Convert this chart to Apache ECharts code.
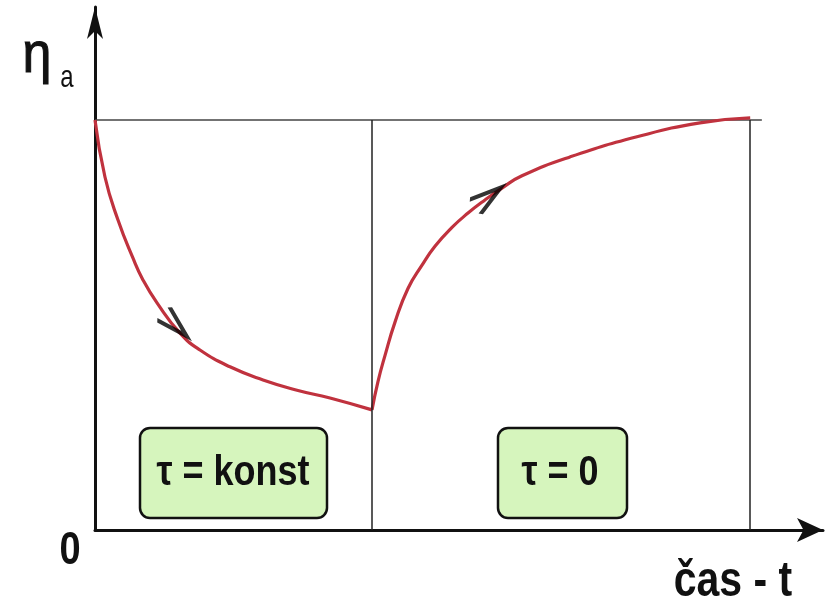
<!DOCTYPE html>
<html>
<head>
<meta charset="utf-8">
<script src="https://cdn.jsdelivr.net/npm/echarts@6/dist/echarts.min.js"></script>
<style>
html,body{margin:0;padding:0;background:#fff;}
#main{width:825px;height:606px;}
</style>
</head>
<body>
<div id="main"></div>
<script>
// Time (relative units) and viscosity eta_a (1.0 = initial value)
const fallX = [0, 0.137, 0.316, 0.522, 0.659, 0.852, 1.168, 1.442, 1.854, 2.308, 2.775, 3.228, 3.805];
const fallY = [1.0, 0.861, 0.756, 0.663, 0.610, 0.554, 0.480, 0.439, 0.398, 0.366, 0.341, 0.322, 0.293];
const riseX = [3.805, 3.887, 3.984, 4.121, 4.299, 4.492, 4.670, 4.904, 5.124, 5.357, 5.591, 5.865, 6.525, 7.445, 8.310, 9.0];
const riseY = [0.293, 0.362, 0.426, 0.507, 0.589, 0.646, 0.692, 0.738, 0.773, 0.805, 0.834, 0.864, 0.910, 0.959, 0.993, 1.005];
const levelX = [0, 9.16];
const levelY = [1.0, 1.0];
const switchTimes = [3.805, 9.0];
const arrowX = [1.10, 5.40];
const arrowY = [0.50, 0.812];
const arrowAngle = [-44, 37];
const boxTexts = ['τ = konst', 'τ = 0'];
const yLabel = 'η';
const ySub = 'a';
const originLabel = '0';
const xLabel = 'čas - t';

const zip = (xs, ys) => xs.map((x, i) => [x, ys[i]]);
const font = '"Liberation Sans", Arial, sans-serif';
const chart = echarts.init(document.getElementById('main'), null, {renderer: 'canvas'});

const option = {
  animation: false,
  backgroundColor: '#ffffff',
  grid: {left: 95, right: 2, top: 7, bottom: 76},
  xAxis: {
    type: 'value', min: 0, max: 10,
    axisLine: {show: true, onZero: false, lineStyle: {color: '#111', width: 3},
      symbol: ['none', 'arrow'], symbolSize: [18, 26]},
    axisTick: {show: false}, axisLabel: {show: false}, splitLine: {show: false}
  },
  yAxis: {
    type: 'value', min: 0, max: 1.2756,
    axisLine: {show: true, onZero: false, lineStyle: {color: '#111', width: 3},
      symbol: ['none', 'arrow'], symbolSize: [12, 32]},
    axisTick: {show: false}, axisLabel: {show: false}, splitLine: {show: false}
  },
  series: [
    {
      type: 'line', data: zip(levelX, levelY), symbol: 'none', silent: true,
      lineStyle: {color: '#444', width: 1.5}, z: 1,
      markLine: {
        silent: true, symbol: 'none', label: {show: false},
        lineStyle: {color: '#222', width: 1.5, type: 'solid'},
        data: switchTimes.map(t => [{coord: [t, 0]}, {coord: [t, 1.0]}])
      }
    },
    {
      type: 'line', data: zip(fallX, fallY), smooth: 0.5, symbol: 'none',
      lineStyle: {color: '#c0323e', width: 3.2}, z: 3
    },
    {
      type: 'line', data: zip(riseX, riseY), smooth: 0.5, symbol: 'none',
      lineStyle: {color: '#c0323e', width: 3.2}, z: 3
    },
    {
      type: 'scatter', z: 4,
      data: arrowX.map((x, i) => ({value: [x, arrowY[i]], symbolRotate: arrowAngle[i]})),
      symbol: 'path://M0,0L33,9L0,18', symbolSize: [32, 18],
      itemStyle: {color: 'rgba(0,0,0,0)', borderColor: '#000', borderWidth: 5}
    }
  ],
  graphic: [
    {type: 'rect', shape: {x: 140, y: 428, width: 187, height: 90, r: 10},
      style: {fill: '#d6f5bd', stroke: '#111', lineWidth: 2.5}, z: 10},
    {type: 'rect', shape: {x: 498, y: 428, width: 129, height: 90, r: 10},
      style: {fill: '#d6f5bd', stroke: '#111', lineWidth: 2.5}, z: 10},
    {type: 'text', x: 233, y: 473, scaleY: 1.2, z: 11,
      style: {text: boxTexts[0], x: 0, y: 0, align: 'center', verticalAlign: 'middle',
        font: 'bold 36px ' + font, fill: '#111'}},
    {type: 'text', x: 560, y: 473, scaleY: 1.2, z: 11,
      style: {text: boxTexts[1], x: 0, y: 0, align: 'center', verticalAlign: 'middle',
        font: 'bold 36px ' + font, fill: '#111'}},
    {type: 'text', x: 37, y: 56, scaleY: 1.1, z: 11,
      style: {text: yLabel, x: 0, y: 0, align: 'center', verticalAlign: 'middle',
        font: '52px ' + font, fill: '#111', stroke: '#111', lineWidth: 1}},
    {type: 'text', x: 67, y: 78, scaleY: 1.3, z: 11,
      style: {text: ySub, x: 0, y: 0, align: 'center', verticalAlign: 'middle',
        font: '24px ' + font, fill: '#111'}},
    {type: 'text', x: 70, y: 551, scaleY: 1.2, z: 11,
      style: {text: originLabel, x: 0, y: 0, align: 'center', verticalAlign: 'middle',
        font: 'bold 38px ' + font, fill: '#111'}},
    {type: 'text', x: 733, y: 582, scaleY: 1.2, z: 11,
      style: {text: xLabel, x: 0, y: 0, align: 'center', verticalAlign: 'middle',
        font: 'bold 41px ' + font, fill: '#111'}}
  ]
};
chart.setOption(option);
</script>
</body>
</html>
